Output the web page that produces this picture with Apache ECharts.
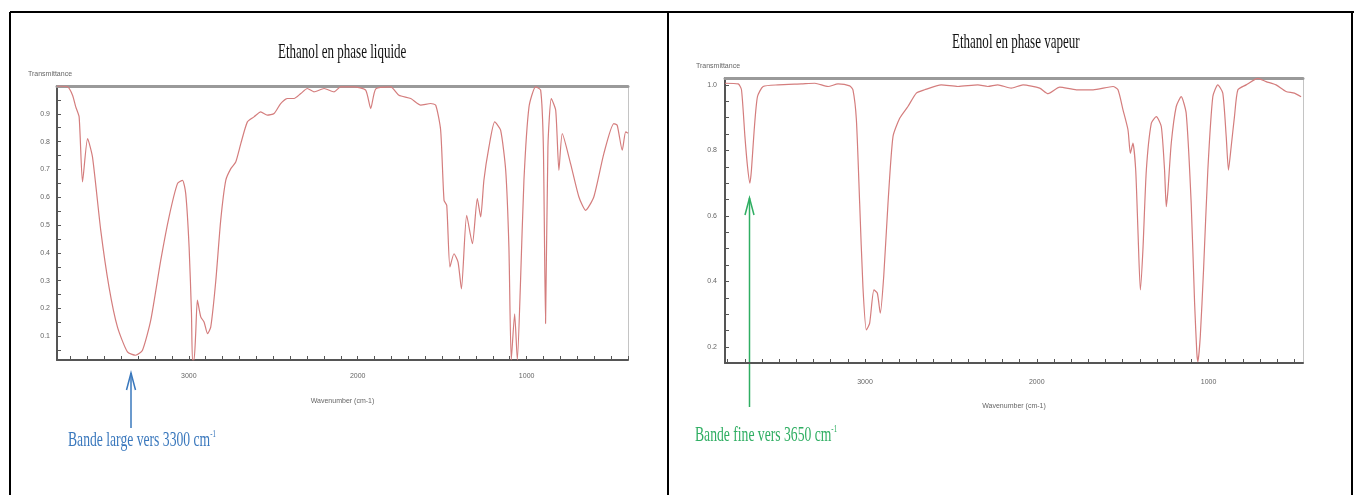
<!DOCTYPE html>
<html>
<head>
<meta charset="utf-8">
<script src="https://cdn.jsdelivr.net/npm/echarts/dist/echarts.min.js"></script>
<style>
	html, body { margin: 0; padding: 0; background: #fff; }
	#chart { width: 1354px; height: 495px; }
</style>
</head>
<body>
<div id="chart"></div>
<script>
// Ethanol en phase liquide : nombre d'onde (cm-1) / transmittance
var liquidWn = [3780, 3718, 3688, 3669, 3649, 3629, 3599, 3570, 3521, 3472, 3422, 3363, 3314, 3274, 3225, 3166, 3117, 3067, 3037, 3018,
	2998, 2984, 2978, 2969, 2959, 2949, 2929, 2909, 2889, 2870, 2840, 2811, 2781, 2751, 2722, 2692, 2653, 2614, 2574, 2535,
	2495, 2456, 2416, 2377, 2337, 2298, 2259, 2199, 2140, 2101, 2022, 1953, 1923, 1893, 1805, 1756, 1686, 1627, 1568, 1538,
	1509, 1489, 1473, 1454, 1430, 1406, 1386, 1355, 1321, 1292, 1272, 1253, 1223, 1189, 1154, 1124, 1105, 1091, 1071, 1055,
	1036, 1016, 986, 947, 917, 901, 888, 874, 854, 828, 809, 789, 740, 691, 651, 602, 543, 484, 464, 434, 414, 400];
var liquidT = [1.0, 0.997, 0.967, 0.925, 0.889, 0.655, 0.811, 0.745, 0.481, 0.277, 0.133, 0.044, 0.032, 0.05, 0.158, 0.373, 0.529, 0.649, 0.661, 0.613,
	0.421, 0.183, 0.015, 0.015, 0.11, 0.23, 0.17, 0.151, 0.11, 0.133, 0.30, 0.517, 0.661, 0.703, 0.727, 0.793, 0.871, 0.889, 0.907, 0.895,
	0.901, 0.937, 0.955, 0.955, 0.973, 0.991, 0.979, 0.991, 0.979, 0.997, 0.997, 0.985, 0.919, 0.99, 0.997, 0.967, 0.955, 0.931, 0.937, 0.931,
	0.841, 0.589, 0.571, 0.349, 0.397, 0.367, 0.271, 0.535, 0.433, 0.595, 0.529, 0.661, 0.781, 0.871, 0.841, 0.697, 0.421, 0.015, 0.181, 0.015,
	0.30, 0.661, 0.925, 0.997, 0.985, 0.781, 0.146, 0.781, 0.955, 0.913, 0.697, 0.829, 0.721, 0.602, 0.553, 0.602, 0.757, 0.865, 0.859, 0.769, 0.835, 0.83];

// Ethanol en phase vapeur
var vapourWn = [3815, 3738, 3719, 3699, 3684, 3670, 3661, 3645, 3626, 3593, 3506, 3370, 3292, 3215, 3157, 3089, 3070, 3050, 3031, 3012,
	2992, 2973, 2948, 2928, 2911, 2891, 2866, 2837, 2798, 2750, 2701, 2653, 2556, 2459, 2343, 2285, 2227, 2149, 2080, 1983,
	1934, 1866, 1769, 1672, 1556, 1527, 1498, 1469, 1455, 1440, 1424, 1411, 1397, 1382, 1362, 1333, 1304, 1275, 1256, 1246,
	1236, 1217, 1188, 1159, 1130, 1101, 1081, 1068, 1062, 1048, 1029, 1004, 975, 946, 917, 897, 884, 868, 849, 829,
	781, 713, 665, 607, 549, 500, 461];
var vapourT = [1.005, 1.003, 0.985, 0.842, 0.751, 0.70, 0.74, 0.863, 0.964, 0.995, 1.0, 1.003, 1.005, 0.995, 1.003, 0.997, 0.985, 0.893, 0.639, 0.384,
	0.252, 0.272, 0.374, 0.364, 0.303, 0.415, 0.639, 0.842, 0.898, 0.934, 0.975, 0.985, 1.0, 0.995, 1.0, 0.995, 1.0, 0.99, 1.0, 0.99,
	0.973, 0.993, 0.985, 0.985, 0.995, 0.985, 0.924, 0.863, 0.791, 0.822, 0.740, 0.557, 0.374, 0.496, 0.740, 0.883, 0.903, 0.873, 0.740, 0.628,
	0.679, 0.822, 0.934, 0.964, 0.913, 0.639, 0.333, 0.181, 0.155, 0.232, 0.435, 0.740, 0.964, 1.0, 0.975, 0.842, 0.740, 0.812, 0.903, 0.985,
	1.0, 1.02, 1.01, 1.0, 0.98, 0.975, 0.964];

// graduations
var wnLabels = [3000, 2000, 1000];
var liquidYLabels = [0.1, 0.2, 0.3, 0.4, 0.5, 0.6, 0.7, 0.8, 0.9];
var vapourYLabels = [0.2, 0.4, 0.6, 0.8, 1.0];

function steps(from, to, step) {
	var out = [];
	for (var v = from; v <= to + 1e-9; v += step) out.push(Math.round(v * 1000) / 1000);
	return out;
}
function pairs(xs, ys) {
	return xs.map(function (x, i) { return [x, ys[i]]; });
}

var labelStyle = { fontSize: 7, color: '#666', fontFamily: 'Liberation Sans' };
var curveColor = '#d47d7d';

function bottomAxis(grid, min, max, gap, margin) {
	return {
		type: 'value', gridIndex: grid, min: min, max: max, inverse: true,
		name: 'Wavenumber (cm-1)', nameLocation: 'middle', nameGap: gap,
		nameTextStyle: labelStyle,
		axisLine: { onZero: false, lineStyle: { color: '#555', width: 2 } },
		axisTick: { inside: true, length: 4, customValues: steps(Math.ceil(min / 100) * 100, max, 100), lineStyle: { color: '#555' } },
		axisLabel: Object.assign({ customValues: wnLabels, margin: margin, formatter: function (v) { return String(v); } }, labelStyle),
		splitLine: { show: false }
	};
}
function topAxis(grid, min, max) {
	return {
		type: 'value', gridIndex: grid, position: 'top', min: min, max: max, inverse: true,
		axisLine: { onZero: false, lineStyle: { color: '#9a9a9a', width: 3 } },
		axisTick: { show: false }, axisLabel: { show: false }, splitLine: { show: false }
	};
}
function leftAxis(grid, min, max, labels, ticks, margin) {
	return {
		type: 'value', gridIndex: grid, min: min, max: max,
		name: 'Transmittance', nameLocation: 'end', nameGap: 8,
		nameTextStyle: Object.assign({ align: 'center', padding: [0, 14, 0, 0] }, labelStyle),
		axisLine: { show: true, onZero: false, lineStyle: { color: '#555', width: 2 } },
		axisTick: { show: true, inside: true, length: 4, customValues: ticks, lineStyle: { color: '#555' } },
		axisLabel: Object.assign({ customValues: labels, margin: margin, formatter: function (v) { return v.toFixed(1); } }, labelStyle),
		splitLine: { show: false }
	};
}
function rightAxis(grid, min, max) {
	return {
		type: 'value', gridIndex: grid, position: 'right', min: min, max: max,
		axisLine: { show: true, onZero: false, lineStyle: { color: '#c4c4c4', width: 1 } },
		axisTick: { show: false }, axisLabel: { show: false }, splitLine: { show: false }
	};
}

function condensed(x, y, text, color, size) {
	return {
		type: 'text', x: x, y: y, scaleX: 0.62,
		style: {
			text: text, fill: color, fontFamily: 'Liberation Serif', fontSize: size,
			textAlign: 'left', textVerticalAlign: 'middle',
			rich: { sup: { fontSize: 11, fill: color, fontFamily: 'Liberation Serif', verticalAlign: 'top' } }
		}
	};
}
function arrow(x, yTip, yEnd, color) {
	return [
		{ type: 'line', shape: { x1: x, y1: yTip, x2: x, y2: yEnd }, style: { stroke: color, lineWidth: 1.5 } },
		{ type: 'polyline', shape: { points: [[x - 4.5, yTip + 17], [x, yTip], [x + 4.5, yTip + 17]] }, style: { stroke: color, lineWidth: 1.5, fill: null } }
	];
}

var myChart = echarts.init(document.getElementById('chart'), null, { renderer: 'canvas' });
myChart.setOption({
	animation: false,
	grid: [
		{ left: 57, top: 86, width: 571, height: 274 },
		{ left: 725, top: 78, width: 578, height: 285 }
	],
	xAxis: [
		bottomAxis(0, 400, 3780, 38, 13),
		topAxis(0, 400, 3780),
		bottomAxis(1, 450, 3815, 40, 16),
		topAxis(1, 450, 3815)
	],
	yAxis: [
		leftAxis(0, 0.015, 1.0, liquidYLabels, steps(0.05, 0.95, 0.05), 7),
		rightAxis(0, 0.015, 1.0),
		leftAxis(1, 0.151, 1.021, vapourYLabels, steps(0.2, 1.0, 0.05), 8),
		rightAxis(1, 0.151, 1.021)
	],
	series: [
		{
			name: 'Ethanol en phase liquide', type: 'line', xAxisIndex: 0, yAxisIndex: 0,
			data: pairs(liquidWn, liquidT), showSymbol: false, smooth: 0.2, clip: true,
			lineStyle: { color: curveColor, width: 1.2 }
		},
		{
			name: 'Ethanol en phase vapeur', type: 'line', xAxisIndex: 2, yAxisIndex: 2,
			data: pairs(vapourWn, vapourT), showSymbol: false, smooth: 0.2, clip: true,
			lineStyle: { color: curveColor, width: 1.2 }
		}
	],
	graphic: [
		// cadre du tableau
		{ type: 'line', shape: { x1: 10, y1: 12, x2: 1354, y2: 12 }, style: { stroke: '#000', lineWidth: 2 } },
		{ type: 'line', shape: { x1: 10, y1: 12, x2: 10, y2: 495 }, style: { stroke: '#000', lineWidth: 2 } },
		{ type: 'line', shape: { x1: 668, y1: 12, x2: 668, y2: 495 }, style: { stroke: '#000', lineWidth: 2 } },
		{ type: 'line', shape: { x1: 1352, y1: 12, x2: 1352, y2: 495 }, style: { stroke: '#000', lineWidth: 2 } },
		// titres
		condensed(278, 52, 'Ethanol en phase liquide', '#111', 21),
		condensed(952, 42, 'Ethanol en phase vapeur', '#111', 21),
		// annotations
		condensed(68, 440, 'Bande large vers 3300 cm{sup|-1}', '#3a78bd', 22),
		condensed(695, 435, 'Bande fine vers 3650 cm{sup|-1}', '#2fae62', 22)
	].concat(arrow(131, 373, 428, '#3a78bd'), arrow(749.5, 198, 407, '#2fae62'))
});
</script>
</body>
</html>
